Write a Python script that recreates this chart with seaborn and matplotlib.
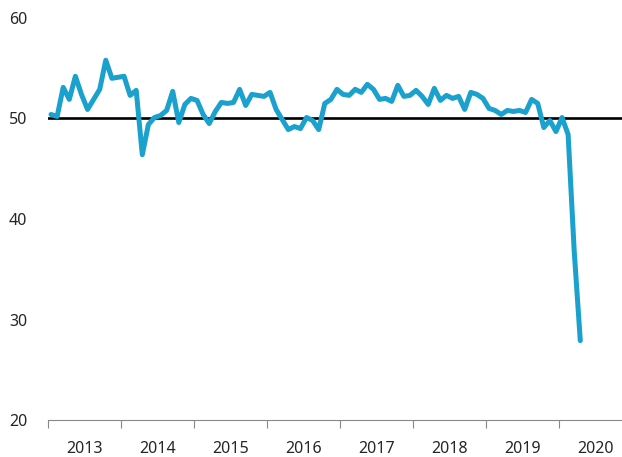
import numpy as np
import pandas as pd
import matplotlib.pyplot as plt
import seaborn as sns

# monthly index values, Jan 2013 - Apr 2020
values = [
    50.4, 50.2, 53.1, 51.9, 54.2, 52.4, 50.9, 51.9, 52.9, 55.8, 54.0, 54.1,   # 2013
    54.2, 52.3, 52.8, 46.4, 49.4, 50.1, 50.3, 50.8, 52.7, 49.6, 51.4, 52.0,   # 2014
    51.8, 50.4, 49.5, 50.7, 51.6, 51.5, 51.6, 52.9, 51.3, 52.4, 52.3, 52.2,   # 2015
    52.6, 50.9, 49.9, 48.9, 49.2, 49.0, 50.1, 49.8, 48.9, 51.5, 51.9, 52.9,   # 2016
    52.4, 52.3, 52.9, 52.6, 53.4, 52.9, 51.9, 52.0, 51.7, 53.3, 52.2, 52.3,   # 2017
    52.8, 52.2, 51.4, 53.0, 51.8, 52.3, 52.0, 52.2, 50.9, 52.6, 52.4, 52.0,   # 2018
    51.0, 50.8, 50.4, 50.8, 50.7, 50.8, 50.6, 51.9, 51.5, 49.1, 49.8, 48.7,   # 2019
    50.1, 48.4, 36.8, 27.9,                                                   # 2020
]
years = ['2013', '2014', '2015', '2016', '2017', '2018', '2019', '2020']
y_ticks = [20, 30, 40, 50, 60]
threshold = 50

df = pd.DataFrame({'month': np.arange(len(values)), 'value': values})

sns.set_style('white')
plt.rcParams['font.family'] = ['Noto Sans', 'DejaVu Sans']

fig = plt.figure(figsize=(6.22, 4.57), dpi=100)
ax = fig.add_axes([48 / 622, 37 / 457, 574 / 622, 402 / 457])

# 50 = no-change line
ax.axhline(threshold, color='black', linewidth=1.9, zorder=2)
sns.lineplot(data=df, x='month', y='value', color='#1aa1cd', linewidth=3.6,
             ax=ax, zorder=3, solid_joinstyle='round', solid_capstyle='round')

ax.set_xlim(-0.5, -0.5 + 574 / (73 / 12))
ax.set_ylim(20, 60)

# year boundaries as ticks, year names centred on each year
ax.set_xticks([-0.5 + 12 * k for k in range(len(years))])
ax.set_xticklabels([])
ax.set_xticks([5.5 + 12 * k for k in range(len(years))], minor=True)
ax.set_xticklabels(years, minor=True)
ax.tick_params(axis='x', which='major', direction='out', length=6, width=0.8,
               color='#888888', bottom=True)
ax.tick_params(axis='x', which='minor', length=0, pad=15, labelsize=11.5,
               labelcolor='#262626')

ax.set_yticks(y_ticks)
ax.tick_params(axis='y', length=0, pad=15, labelsize=11.5, labelcolor='#262626')

ax.set_xlabel('')
ax.set_ylabel('')
sns.despine(ax=ax, left=True, top=True, right=True)
ax.spines['bottom'].set_color('#888888')
ax.spines['bottom'].set_linewidth(0.8)

fig.savefig('out.png', dpi=100)
